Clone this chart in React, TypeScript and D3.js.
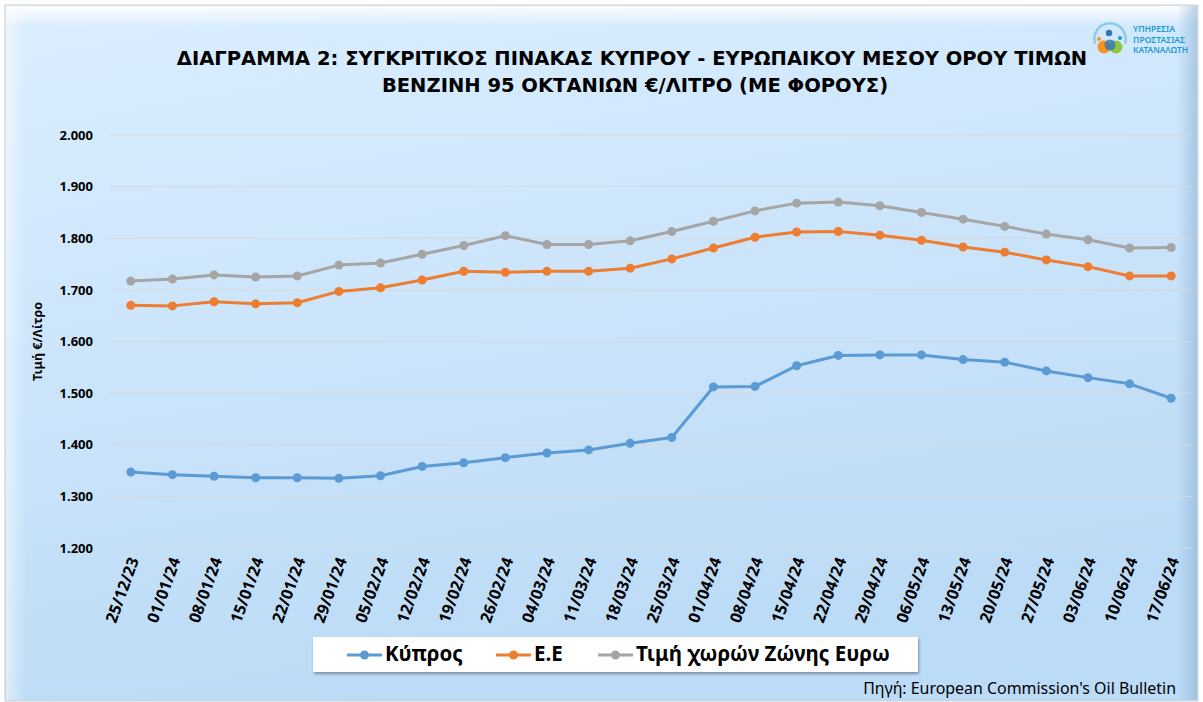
import React, { useEffect, useRef } from "react";
import * as d3 from "d3";

// week dates (Oil Bulletin)
const dates = [
  "25/12/23", "01/01/24", "08/01/24", "15/01/24", "22/01/24", "29/01/24",
  "05/02/24", "12/02/24", "19/02/24", "26/02/24", "04/03/24", "11/03/24",
  "18/03/24", "25/03/24", "01/04/24", "08/04/24", "15/04/24", "22/04/24",
  "29/04/24", "06/05/24", "13/05/24", "20/05/24", "27/05/24", "03/06/24",
  "10/06/24", "17/06/24",
];

const cyprus = [
  1.347, 1.342, 1.339, 1.336, 1.336, 1.335, 1.340, 1.358, 1.365, 1.375,
  1.384, 1.390, 1.403, 1.414, 1.512, 1.513, 1.553, 1.573, 1.574, 1.574,
  1.565, 1.560, 1.543, 1.530, 1.518, 1.490,
];

const eu = [
  1.670, 1.669, 1.677, 1.673, 1.675, 1.697, 1.704, 1.719, 1.736, 1.734,
  1.736, 1.736, 1.742, 1.760, 1.781, 1.802, 1.812, 1.813, 1.806, 1.796,
  1.783, 1.773, 1.758, 1.745, 1.727, 1.727,
];

const euroZone = [
  1.717, 1.721, 1.729, 1.725, 1.727, 1.748, 1.752, 1.769, 1.786, 1.805,
  1.788, 1.788, 1.795, 1.813, 1.833, 1.853, 1.868, 1.870, 1.863, 1.850,
  1.837, 1.823, 1.808, 1.797, 1.781, 1.782,
];

const yTicks = [1.2, 1.3, 1.4, 1.5, 1.6, 1.7, 1.8, 1.9, 2.0];

const seriesNames = ["Κύπρος", "Ε.Ε", "Τιμή χωρών Ζώνης Ευρω"];
const seriesColors = ["#5B9BD5", "#ED7D31", "#A5A5A5"];

const W = 1203;
const H = 702;
const FONT = "'Noto Sans', 'DejaVu Sans', sans-serif";
const TITLE_FONT = "'DejaVu Sans', sans-serif";

// shrink/grow a text's font size so it spans the wanted width
const fitWidth = (sel: any, width: number) => {
  const node = sel.node() as SVGTextElement;
  const fs = parseFloat(sel.attr("font-size"));
  const len = node.getComputedTextLength();
  if (len > 0) sel.attr("font-size", (fs * width) / len);
};

const App = () => {
  const ref = useRef<SVGSVGElement>(null);

  useEffect(() => {
    const svg = d3.select(ref.current);
    svg.selectAll("*").remove();

    const defs = svg.append("defs");
    const bg = defs.append("linearGradient").attr("id", "bg")
      .attr("x1", 0).attr("y1", 0).attr("x2", 0.3).attr("y2", 1);
    bg.append("stop").attr("offset", "0%").attr("stop-color", "#dbeeff");
    bg.append("stop").attr("offset", "100%").attr("stop-color", "#bcdbf6");

    const topBevel = defs.append("linearGradient").attr("id", "topb")
      .attr("x1", 0).attr("y1", 0).attr("x2", 0).attr("y2", 1);
    topBevel.append("stop").attr("offset", "0%").attr("stop-color", "#ffffff").attr("stop-opacity", 0.95);
    topBevel.append("stop").attr("offset", "100%").attr("stop-color", "#ffffff").attr("stop-opacity", 0);

    const leftBevel = defs.append("linearGradient").attr("id", "leftb")
      .attr("x1", 0).attr("y1", 0).attr("x2", 1).attr("y2", 0);
    leftBevel.append("stop").attr("offset", "0%").attr("stop-color", "#ffffff").attr("stop-opacity", 0.5);
    leftBevel.append("stop").attr("offset", "100%").attr("stop-color", "#ffffff").attr("stop-opacity", 0);

    const rightBevel = defs.append("linearGradient").attr("id", "rightb")
      .attr("x1", 1).attr("y1", 0).attr("x2", 0).attr("y2", 0);
    rightBevel.append("stop").attr("offset", "0%").attr("stop-color", "#8fb3d6").attr("stop-opacity", 0.6);
    rightBevel.append("stop").attr("offset", "100%").attr("stop-color", "#8fb3d6").attr("stop-opacity", 0);

    const shadow = defs.append("filter").attr("id", "shadow")
      .attr("x", "-5%").attr("y", "-20%").attr("width", "110%").attr("height", "160%");
    shadow.append("feDropShadow").attr("dx", 1).attr("dy", 2)
      .attr("stdDeviation", 1.5).attr("flood-color", "#000").attr("flood-opacity", 0.35);

    // background frame
    svg.append("rect").attr("width", W).attr("height", H).attr("fill", "#ffffff");
    svg.append("rect").attr("x", 5).attr("y", 5).attr("width", W - 10).attr("height", H - 6)
      .attr("fill", "url(#bg)").attr("stroke", "#cfcfcf");
    svg.append("rect").attr("x", 6).attr("y", 6).attr("width", W - 12).attr("height", 20)
      .attr("fill", "url(#topb)");
    svg.append("rect").attr("x", 6).attr("y", 6).attr("width", 20).attr("height", H - 8)
      .attr("fill", "url(#leftb)");
    svg.append("rect").attr("x", W - 26).attr("y", 6).attr("width", 20).attr("height", H - 8)
      .attr("fill", "url(#rightb)");

    // title
    const t1 = svg.append("text").attr("x", 632).attr("y", 65).attr("text-anchor", "middle")
      .attr("font-family", TITLE_FONT).attr("font-weight", "bold").attr("font-size", 17)
      .attr("fill", "#000")
      .text("ΔΙΑΓΡΑΜΜΑ 2: ΣΥΓΚΡΙΤΙΚΟΣ ΠΙΝΑΚΑΣ ΚΥΠΡΟΥ - ΕΥΡΩΠΑΙΚΟΥ ΜΕΣΟΥ ΟΡΟΥ ΤΙΜΩΝ");
    fitWidth(t1, 911);
    const t2 = svg.append("text").attr("x", 635).attr("y", 92).attr("text-anchor", "middle")
      .attr("font-family", TITLE_FONT).attr("font-weight", "bold").attr("font-size", 17)
      .attr("fill", "#000")
      .text("ΒΕΝΖΙΝΗ 95 ΟΚΤΑΝΙΩΝ €/ΛΙΤΡΟ (ΜΕ ΦΟΡΟΥΣ)");
    t2.attr("font-size", t1.attr("font-size"));

    // logo
    const logo = svg.append("g").attr("transform", "translate(1110,39)");
    logo.append("path").attr("d", d3.arc()({
      innerRadius: 14.5, outerRadius: 17, startAngle: -Math.PI * 0.6, endAngle: Math.PI * 0.6,
    }) as string).attr("fill", "#8ccbea");
    logo.append("circle").attr("cx", 6).attr("cy", 8).attr("r", 6.5).attr("fill", "#8dc63f");
    logo.append("circle").attr("cx", -6).attr("cy", 8).attr("r", 6.5).attr("fill", "#f7941d");
    logo.append("circle").attr("cx", 0).attr("cy", 6).attr("r", 5.5).attr("fill", "#2e75b6").attr("opacity", 0.8);
    logo.append("circle").attr("cx", -1).attr("cy", -6).attr("r", 3.2).attr("fill", "#2e75b6");
    logo.append("circle").attr("cx", -11).attr("cy", 0).attr("r", 2).attr("fill", "#f7941d");
    logo.append("circle").attr("cx", 10).attr("cy", -1).attr("r", 2).attr("fill", "#1b9ad6");
    [["ΥΠΗΡΕΣΙΑ", 42], ["ΠΡΟΣΤΑΣΙΑΣ", 52], ["ΚΑΤΑΝΑΛΩΤΗ", 55]].forEach(([t, w], i) => {
      svg.append("text").attr("x", 1133).attr("y", 32 + i * 10.5)
        .attr("font-family", FONT).attr("font-size", 8).attr("font-weight", 600)
        .attr("fill", "#1b9ad6")
        .attr("textLength", w as number).attr("lengthAdjust", "spacingAndGlyphs")
        .text(t as string);
    });

    // plot
    const left = 110;
    const right = 1192;
    const top = 135;
    const bottom = 548;

    const x = d3.scaleBand<string>().domain(dates).range([left, right]);
    const y = d3.scaleLinear().domain([1.2, 2.0]).range([bottom, top]);
    const cx = (d: string) => (x(d) as number) + x.bandwidth() / 2;

    svg.append("g").selectAll("line").data(yTicks).join("line")
      .attr("x1", left).attr("x2", right)
      .attr("y1", (d) => y(d)).attr("y2", (d) => y(d))
      .attr("stroke", "#d4d9de").attr("stroke-width", 1);

    const yAxis = svg.append("g").attr("transform", `translate(${left},0)`)
      .call(d3.axisLeft(y).tickValues(yTicks).tickFormat(d3.format(".3f")).tickSize(0).tickPadding(17));
    yAxis.select(".domain").remove();
    yAxis.selectAll("text").attr("font-family", FONT).attr("font-weight", "bold")
      .attr("font-size", 13).attr("fill", "#000");

    svg.append("text").attr("transform", `translate(42,${(top + bottom) / 2}) rotate(-90)`)
      .attr("text-anchor", "middle").attr("font-family", FONT).attr("font-weight", "bold")
      .attr("font-size", 12.5).attr("fill", "#000").text("Τιμή €/Λίτρο");

    const xAxis = svg.append("g").attr("transform", `translate(0,${bottom})`)
      .call(d3.axisBottom(x).tickSize(0).tickPadding(0));
    xAxis.select(".domain").remove();
    xAxis.selectAll("text")
      .attr("font-family", FONT).attr("font-weight", "bold").attr("font-size", 16)
      .attr("fill", "#000")
      .attr("text-anchor", "end")
      .attr("dy", "0.35em")
      .attr("transform", "translate(3,10) rotate(-70)");

    const all = [cyprus, eu, euroZone];
    const line = d3.line<number>().x((_, i) => cx(dates[i])).y((d) => y(d));

    all.forEach((vals, s) => {
      const g = svg.append("g");
      g.append("path").datum(vals).attr("d", line).attr("fill", "none")
        .attr("stroke", seriesColors[s]).attr("stroke-width", 3).attr("stroke-linejoin", "round");
      g.selectAll("circle").data(vals).join("circle")
        .attr("cx", (_, i) => cx(dates[i])).attr("cy", (d) => y(d))
        .attr("r", 4.5).attr("fill", seriesColors[s]);
    });

    // legend
    const lg = svg.append("g");
    lg.append("rect").attr("x", 313).attr("y", 637).attr("width", 605).attr("height", 35)
      .attr("fill", "#ffffff").attr("filter", "url(#shadow)");
    const legendX = [347, 496, 598];
    const texts: any[] = [];
    seriesNames.forEach((name, s) => {
      const gx = legendX[s];
      lg.append("line").attr("x1", gx).attr("x2", gx + 35).attr("y1", 655).attr("y2", 655)
        .attr("stroke", seriesColors[s]).attr("stroke-width", 3);
      lg.append("circle").attr("cx", gx + 17.5).attr("cy", 655).attr("r", 4.5).attr("fill", seriesColors[s]);
      texts.push(lg.append("text").attr("x", gx + 38).attr("y", 661).attr("font-family", FONT)
        .attr("font-weight", "bold").attr("font-size", 16).attr("fill", "#000").text(name));
    });
    fitWidth(texts[2], 254);
    texts[0].attr("font-size", texts[2].attr("font-size"));
    texts[1].attr("font-size", texts[2].attr("font-size"));

    // source
    const src = svg.append("text").attr("x", 1176).attr("y", 694).attr("text-anchor", "end")
      .attr("font-family", FONT).attr("font-size", 13).attr("fill", "#000")
      .text("Πηγή: European Commission's Oil Bulletin");
    fitWidth(src, 313);
  }, []);

  return (
    <svg ref={ref} width={W} height={H}
      style={{ position: "absolute", left: 0, top: 0, display: "block" }} />
  );
};

export default App;
